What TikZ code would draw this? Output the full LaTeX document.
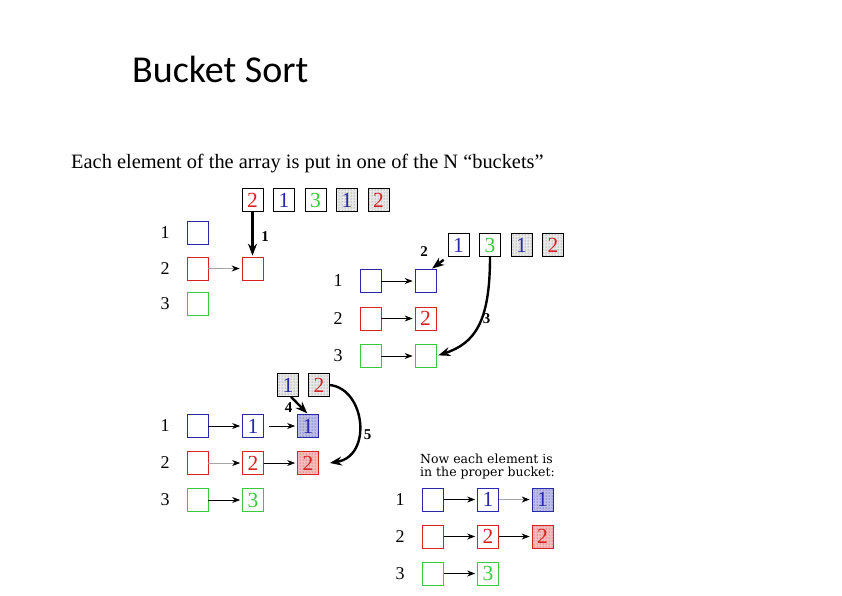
\documentclass[tikz,border=0pt]{standalone}
\usepackage{fontspec}
\setmainfont{Liberation Serif}
\newfontfamily\titlefont{Carlito}
\newfontfamily\notefont{DejaVu Serif}
\usetikzlibrary{arrows.meta,patterns}

\definecolor{bkblue}{RGB}{40,40,170}
\definecolor{bkred}{RGB}{215,35,35}
\definecolor{bkgreen}{RGB}{60,200,60}

\tikzset{
  cell/.style={draw, minimum width=21pt, minimum height=23pt, inner sep=0pt, line width=0.7pt, font=\fontsize{21.5}{21.5}\selectfont},
  bluecell/.style={cell, draw=bkblue, text=bkblue},
  redcell/.style={cell, draw=bkred, text=bkred},
  greencell/.style={cell, draw=bkgreen, text=bkgreen},
  dotcell/.style={cell, draw=black, preaction={fill=gray!18}, pattern=dots, pattern color=black!60},
  bluedot/.style={bluecell, preaction={fill=bkblue!30}, pattern=dots, pattern color=bkblue},
  reddot/.style={redcell, preaction={fill=bkred!30}, pattern=dots, pattern color=bkred},
  rowlabel/.style={font=\fontsize{18}{18}\selectfont},
  link/.style={-{Stealth[length=8pt,width=6pt]}, line width=0.8pt, shorten >=2pt},
  faintlink/.style={link, draw=black!35, -{Stealth[length=8pt,width=6pt,black]}},
  move/.style={-{Stealth[length=12pt,width=9pt]}, line width=2.4pt, shorten >=1pt},
  movelabel/.style={font=\bfseries\fontsize{15}{15}\selectfont}
}

\begin{document}
\begin{tikzpicture}[x=1pt, y=-1pt]
\useasboundingbox (0,0) rectangle (842,595);
\node[anchor=base west, inner sep=0pt, font=\titlefont\fontsize{38}{38}\selectfont] (title) at (132,82) {Bucket Sort};
\node[anchor=base west, inner sep=0pt, font=\fontsize{20.4}{20.4}\selectfont] (caption) at (71,168) {Each element of the array is put in one of the N “buckets”};
% step 1
\begin{scope}[shift={(197.5,233)}]
\node[rowlabel] (p1n1) at (-32.5,0) {1};
\node[rowlabel] (p1n2) at (-32.5,35.5) {2};
\node[rowlabel] (p1n3) at (-32.5,71) {3};
\node[bluecell] (p1b1) at (0,0) {};
\node[redcell] (p1b2) at (0,35.5) {};
\node[greencell] (p1b3) at (0,71) {};
\node[cell, text=bkred] (p1a1) at (55,-33) {2};
\node[cell, text=bkblue] (p1a2) at (86.5,-33) {1};
\node[cell, text=bkgreen] (p1a3) at (118,-33) {3};
\node[dotcell, text=bkblue] (p1a4) at (149.5,-33) {1};
\node[dotcell, text=bkred] (p1a5) at (181,-33) {2};
\node[redcell] (p1c2) at (55,35.5) {};
\draw[move] (p1a1) -- (p1c2);
\node[movelabel] (p1m) at (67.5,4) {1};
\draw[faintlink] (p1b2) -- (p1c2);
\end{scope}
% step 2
\begin{scope}[shift={(370.5,281)}]
\node[rowlabel] (p2n1) at (-32.5,0) {1};
\node[rowlabel] (p2n2) at (-32.5,37.5) {2};
\node[rowlabel] (p2n3) at (-32.5,75) {3};
\node[bluecell] (p2b1) at (0,0) {};
\node[redcell] (p2b2) at (0,37.5) {};
\node[greencell] (p2b3) at (0,75) {};
\node[bluecell] (p2c1) at (55,0) {};
\node[redcell] (p2c2) at (55,37.5) {2};
\node[greencell] (p2c3) at (55,75) {};
\node[cell, text=bkblue] (p2a1) at (88,-36) {1};
\node[cell, text=bkgreen] (p2a2) at (119.5,-36) {3};
\node[dotcell, text=bkblue] (p2a3) at (151,-36) {1};
\node[dotcell, text=bkred] (p2a4) at (182.5,-36) {2};
\draw[link] (p2b1) -- (p2c1);
\draw[link] (p2b2) -- (p2c2);
\draw[link] (p2b3) -- (p2c3);
\draw[move] ([xshift=-4pt,yshift=-3pt]p2a1.south west) -- ([xshift=-5pt]p2c1.north east);
\node[movelabel] (p2m) at (53.5,-29) {2};
\draw[move, shorten >=2pt] (p2a2.south) .. controls (119.5,40) and (105,62) .. (p2c3.east);
\node[movelabel] (p3m) at (116,38) {3};
\end{scope}
% step 3
\begin{scope}[shift={(197.5,426)}]
\node[rowlabel] (p3n1) at (-32.5,0) {1};
\node[rowlabel] (p3n2) at (-32.5,37) {2};
\node[rowlabel] (p3n3) at (-32.5,74) {3};
\node[bluecell] (p3b1) at (0,0) {};
\node[redcell] (p3b2) at (0,37) {};
\node[greencell] (p3b3) at (0,74) {};
\node[bluecell] (p3c1) at (55.5,0) {1};
\node[redcell] (p3c2) at (55.5,37) {2};
\node[greencell] (p3c3) at (55.5,74) {3};
\node[bluedot] (p3d1) at (110.5,0) {1};
\node[reddot] (p3d2) at (110.5,37) {2};
\node[dotcell, text=bkblue] (p3a1) at (90.5,-41) {1};
\node[dotcell, text=bkred] (p3a2) at (121.5,-41) {2};
\draw[link] (p3b1) -- (p3c1);
\draw[faintlink] (p3b2) -- (p3c2);
\draw[link] (p3b3) -- (p3c3);
\draw[link, shorten <=5pt] (p3c1) -- (p3d1);
\draw[link] (p3c2) -- (p3d2);
\draw[move] ([xshift=3pt]p3a1.south) -- (p3d1.north);
\node[movelabel] (p4m) at (91,-18) {4};
\draw[move, shorten >=0pt] (p3a2.east) .. controls (168,-37) and (175,30) .. ([xshift=11pt]p3d2.east);
\node[movelabel] (p5m) at (170,9) {5};
\end{scope}
% result
\begin{scope}[shift={(433,499.5)}]
\node[anchor=west, align=left, inner sep=0pt, font=\notefont\fontsize{12.5}{13.5}\selectfont] (p4t) at (-13,-33) {Now each element is\\in the proper bucket:};
\node[rowlabel] (p4n1) at (-33,0) {1};
\node[rowlabel] (p4n2) at (-33,37) {2};
\node[rowlabel] (p4n3) at (-33,74) {3};
\node[bluecell] (p4b1) at (0,0) {};
\node[redcell] (p4b2) at (0,37) {};
\node[greencell] (p4b3) at (0,74) {};
\node[bluecell] (p4c1) at (55,0) {1};
\node[redcell] (p4c2) at (55,37) {2};
\node[greencell] (p4c3) at (55,74) {3};
\node[bluedot] (p4d1) at (109.5,0) {1};
\node[reddot] (p4d2) at (109.5,37) {2};
\draw[link] (p4b1) -- (p4c1);
\draw[faintlink] (p4c1) -- (p4d1);
\draw[link] (p4b2) -- (p4c2);
\draw[link] (p4c2) -- (p4d2);
\draw[link] (p4b3) -- (p4c3);
\end{scope}
\end{tikzpicture}
\end{document}
